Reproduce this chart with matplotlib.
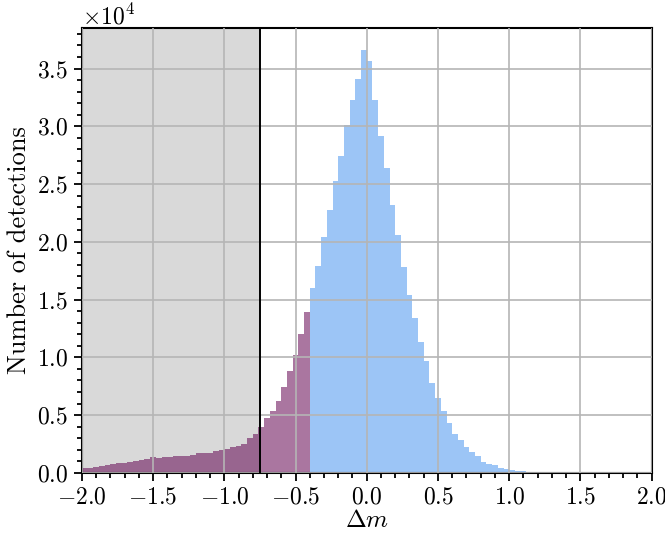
import numpy as np
import matplotlib
matplotlib.use("Agg")
import matplotlib.pyplot as plt
from matplotlib.ticker import MultipleLocator

plt.rcParams['font.family'] = 'serif'
plt.rcParams['font.serif'] = ['cmr10']
plt.rcParams['mathtext.fontset'] = 'cm'
plt.rcParams['axes.formatter.use_mathtext'] = True

# histogram bins: 0.04 wide, from -2 to 2
bin_lo = -2.0
bin_width = 0.04
cut_mag = -0.75   # rejection threshold
split_mag = -0.4  # colour change

# counts below the split (-2.0 .. -0.4)
purple_counts = [400, 400, 470, 560, 650, 750, 810, 870, 950, 1040,
                 1100, 1160, 1330, 1270, 1350, 1390, 1440, 1470, 1500, 1560,
                 1680, 1700, 1760, 1850, 1960, 2050, 2200, 2320, 2500, 2980,
                 3400, 4000, 4720, 5370, 6200, 7450, 8780, 10230, 12000, 13900]

# counts above the split (-0.4 .. 2.0)
blue_counts = [15970, 17940, 20450, 22790, 25300, 27440, 30130, 32240, 34080, 36630,
               35680, 32320, 29200, 26400, 23220, 20600, 17790, 15400, 13400, 11330,
               9700, 7800, 6500, 5310, 4330, 3380, 2840, 2250, 1820, 1420,
               970, 750, 640, 460, 320, 230, 150, 120, 90, 60,
               40, 30, 20, 15, 10, 8, 6, 5, 4, 3,
               2, 2, 1, 1, 1, 0, 0, 1, 0, 0]

n_purple = len(purple_counts)
n_blue = len(blue_counts)
purple_left = bin_lo + bin_width * np.arange(n_purple)
blue_left = split_mag + bin_width * np.arange(n_blue)

fig, ax = plt.subplots(figsize=(6.65, 5.41), dpi=100)
fig.subplots_adjust(left=0.123, right=0.980, bottom=0.126, top=0.948)

ax.axvspan(-2.0, cut_mag, color='#d9d9d9', zorder=0, lw=0)
ax.bar(purple_left, purple_counts, width=bin_width, align='edge',
       color='#640652', alpha=0.55, lw=0, zorder=1)
ax.bar(blue_left, blue_counts, width=bin_width, align='edge',
       color='#5fa2f2', alpha=0.62, lw=0, zorder=1)
ax.axvline(cut_mag, color='black', lw=1.4, zorder=3)

ax.set_xlim(-2, 2)
ax.set_ylim(0, 38500)
ax.xaxis.set_major_locator(MultipleLocator(0.5))
ax.xaxis.set_minor_locator(MultipleLocator(0.1))
ax.yaxis.set_major_locator(MultipleLocator(5000))
ax.yaxis.set_minor_locator(MultipleLocator(1000))
ax.ticklabel_format(axis='y', style='sci', scilimits=(4, 4))
ax.yaxis.get_offset_text().set_fontsize(17)

ax.grid(True, which='major', color='#b5b5b5', lw=1.2, zorder=2)
ax.set_axisbelow(False)
ax.tick_params(which='both', direction='out', top=False, right=False,
               labelsize=17, width=1.3)
ax.tick_params(which='major', length=6, pad=4)
ax.tick_params(which='minor', length=3.5)
for s in ax.spines.values():
    s.set_linewidth(1.5)

ax.set_xlabel(r'$\Delta m$', fontsize=18, labelpad=1)
ax.set_ylabel('Number of detections', fontsize=19, labelpad=4)

fig.savefig('out.png', dpi=100)
